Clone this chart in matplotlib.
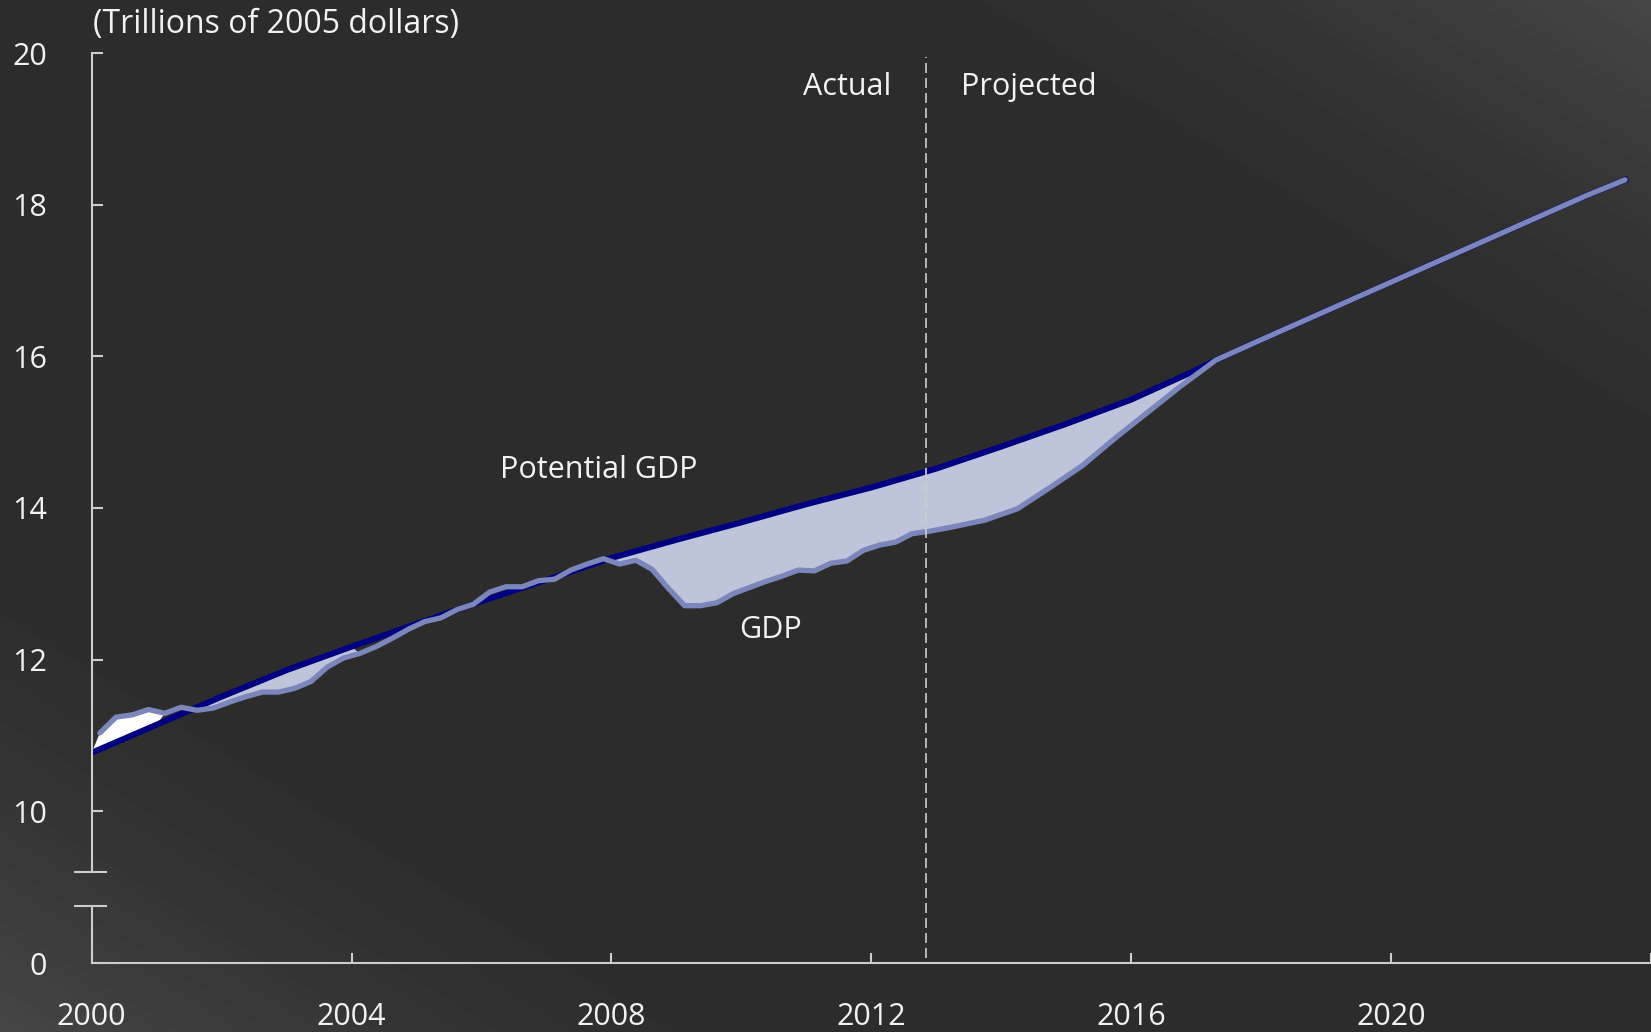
import numpy as np
import matplotlib.pyplot as plt
from matplotlib import transforms
from matplotlib.lines import Line2D

plt.rcParams['font.family'] = ['Open Sans', 'DejaVu Sans']

W, H = 1651, 1032

# real GDP, quarterly 2000Q1 - 2012Q4 (trillions of 2005 dollars)
gdp_actual = [11.03, 11.24, 11.27, 11.34,
              11.29, 11.37, 11.33, 11.36,
              11.44, 11.51, 11.57, 11.57,
              11.62, 11.71, 11.90, 12.02,
              12.08, 12.17, 12.28, 12.40,
              12.50, 12.55, 12.66, 12.73,
              12.89, 12.96, 12.96, 13.04,
              13.06, 13.18, 13.26, 13.33,
              13.26, 13.31, 13.19, 12.94,
              12.71, 12.71, 12.75, 12.87,
              12.95, 13.03, 13.10, 13.18,
              13.17, 13.27, 13.30, 13.44,
              13.51, 13.55, 13.66, 13.69]
t_actual = 2000.125 + 0.25 * np.arange(len(gdp_actual))

# projected GDP
proj_years = [2013.25, 2013.75, 2014.25, 2014.75, 2015.25, 2015.75, 2016.25,
              2016.75, 2017.3, 2018, 2019, 2020, 2021, 2022, 2023, 2023.6]
proj_gdp = [13.75, 13.84, 13.99, 14.27, 14.56, 14.92, 15.26,
            15.60, 15.95, 16.22, 16.60, 16.98, 17.36, 17.74, 18.12, 18.33]

# potential GDP
pot_years = [2000, 2001, 2002, 2003, 2004, 2005, 2006, 2007, 2008, 2009, 2010,
             2011, 2012, 2013, 2014, 2015, 2016, 2017, 2017.3,
             2018, 2019, 2020, 2021, 2022, 2023, 2023.6]
pot_gdp = [10.77, 11.14, 11.51, 11.86, 12.17, 12.47, 12.77, 13.05, 13.34, 13.58,
           13.81, 14.05, 14.27, 14.52, 14.81, 15.11, 15.43, 15.82, 15.95,
           16.22, 16.60, 16.98, 17.36, 17.74, 18.12, 18.33]

y_ticks = [10, 12, 14, 16, 18, 20]
x_ticks = [2000, 2004, 2008, 2012, 2016, 2020, 2024]
x_labels = ['2000', '2004', '2008', '2012', '2016', '2020', '']

axis_col = '#cdcdcd'
text_col = '#f2f2f2'
navy = '#000080'
gdp_col = '#7b86bb'
fill_col = '#bec4d9'
fs = 22

fig = plt.figure(figsize=(W / 100, H / 100), dpi=100)

# background with a light sheen in two corners
bg = fig.add_axes([0, 0, 1, 1], zorder=-5)
xx, yy = np.meshgrid(np.linspace(0, 1, 400), np.linspace(1, 0, 250))
u = xx + yy
d = np.minimum(u, 2 - u)
shade = 45 + 25 * np.clip(1 - d / 0.45, 0, 1) ** 1.5
bg.imshow(shade, cmap='gray', vmin=0, vmax=255, aspect='auto',
          extent=[0, 1, 0, 1], interpolation='bilinear')
bg.axis('off')

left = 91.7 / W
top_px, brk_hi, brk_lo, zero_px = 53.3, 871.7, 906.0, 963.3
ax = fig.add_axes([left, 1 - brk_hi / H, 1 - left, (brk_hi - top_px) / H])
ax2 = fig.add_axes([left, 1 - zero_px / H, 1 - left, (zero_px - brk_lo) / H])
for a in (ax, ax2):
    a.set_facecolor('none')
    a.set_xlim(2000, 2024)
    for s in ('top', 'right'):
        a.spines[s].set_visible(False)
    for s in ('left', 'bottom'):
        a.spines[s].set_color(axis_col)
        a.spines[s].set_linewidth(1.5)

ax.set_ylim(9.2, 20)
ax.spines['bottom'].set_visible(False)
ax.set_xticks([])
ax.set_yticks(y_ticks)
ax.tick_params(axis='y', direction='in', length=8, width=1.5, color=axis_col,
               labelcolor=text_col, labelsize=fs, pad=32)

ax2.set_ylim(0, 0.756)
ax2.set_yticks([0])
ax2.tick_params(axis='y', direction='in', length=8, width=1.5, color=axis_col,
                labelcolor=text_col, labelsize=fs, pad=32)
ax2.set_xticks(x_ticks)
ax2.set_xticklabels(x_labels)
ax2.tick_params(axis='x', direction='in', length=7, width=1.5, color=axis_col,
                labelcolor=text_col, labelsize=fs, pad=28)

# axis break marks
for ypx in (brk_hi, brk_lo):
    fig.add_artist(Line2D([75 / W, 106 / W], [1 - ypx / H, 1 - ypx / H],
                          color=axis_col, lw=1.5))

t_all = np.r_[t_actual, proj_years]
g_all = np.r_[gdp_actual, proj_gdp]
p_t = np.array(pot_years)
p_v = np.array(pot_gdp)


def gap(t0, t1, color):
    mg = (t_all >= t0) & (t_all <= t1)
    mp = (p_t >= t0) & (p_t <= t1)
    xs = np.r_[t_all[mg], p_t[mp][::-1]]
    ys = np.r_[g_all[mg], p_v[mp][::-1]]
    ax.fill(xs, ys, color=color, lw=0, zorder=1)


gap(2000, 2001.15, 'white')
gap(2001.6, 2004.2, fill_col)
gap(2007.8, 2017.3, fill_col)

ax.plot(p_t, p_v, color=navy, lw=4.3, zorder=2, solid_joinstyle='round')
ax.plot(t_all, g_all, color=gdp_col, lw=3.8, zorder=3,
        solid_joinstyle='round', solid_capstyle='round')

# actual / projected divider
split = 2012.84
trans = transforms.blended_transform_factory(ax.transData, fig.transFigure)
fig.add_artist(Line2D([split, split], [1 - 958 / H, 1 - 57 / H], transform=trans,
                      color=axis_col, lw=1.2, ls=(0, (6, 3))))

ax.text(2012.31, 19.56, 'Actual', color=text_col, fontsize=fs,
        ha='right', va='center')
ax.text(2013.38, 19.56, 'Projected', color=text_col, fontsize=fs,
        ha='left', va='center')
ax.text(2006.28, 14.5, 'Potential GDP', color=text_col, fontsize=fs,
        ha='left', va='center')
ax.text(2010.45, 12.39, 'GDP', color=text_col, fontsize=fs,
        ha='center', va='center')
fig.text(93 / W, 1 - 24 / H, '(Trillions of 2005 dollars)', color=text_col,
         fontsize=fs + 1, ha='left', va='center')

fig.savefig('out.png', dpi=100)
